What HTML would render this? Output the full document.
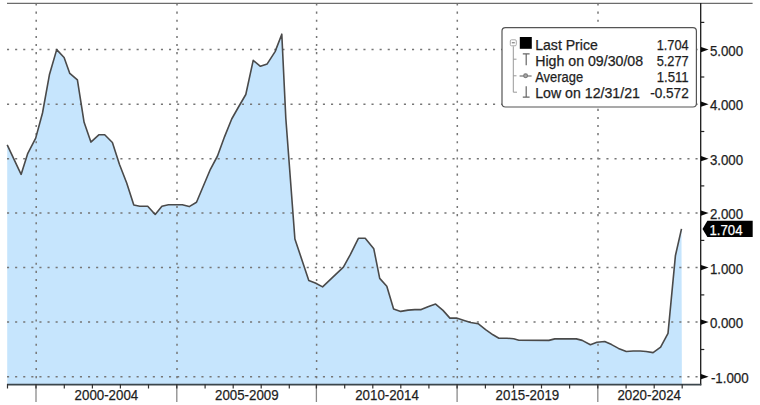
<!DOCTYPE html>
<html><head><meta charset="utf-8"><style>
html,body{margin:0;padding:0;background:#fff;width:760px;height:405px;overflow:hidden;}
svg{position:absolute;left:0;top:0;}
text{font-family:"Liberation Sans",sans-serif;font-size:14px;}
</style></head><body>
<svg width="760" height="405" viewBox="0 0 760 405">
<polygon points="7.2,144.8 21.1,174.4 27.8,153.3 35.7,138.1 42.5,113.0 49.4,74.8 56.7,49.6 64.1,57.5 69.8,73.4 77.4,79.8 84.1,122.3 90.9,142.1 98.8,134.8 104.7,134.8 112.4,142.5 119.5,164.5 126.7,183.0 133.8,205.0 139.8,206.2 147.7,206.2 155.2,214.5 161.9,206.2 168.4,204.8 176.3,204.8 182.3,204.8 189.2,206.6 196.5,202.3 210.4,169.3 217.5,156.0 224.6,136.6 231.7,119.0 238.5,107.0 245.8,94.5 253.2,60.4 260.4,66.3 267.2,63.9 275.1,51.6 281.8,34.2 285.8,118.0 294.9,239.0 308.8,280.4 315.3,283.0 322.6,286.9 343.4,267.2 350.3,254.7 358.4,238.3 365.2,238.3 373.8,248.8 379.7,278.4 386.8,286.3 393.6,308.9 400.7,311.4 408.1,310.1 414.8,309.6 421.2,309.6 428.6,306.4 435.6,304.1 443.0,310.4 449.9,318.1 456.5,318.0 464.1,320.4 470.7,322.5 478.1,323.7 485.6,329.6 493.0,334.8 498.9,338.2 507.0,338.2 513.7,338.8 518.9,340.2 548.9,340.4 554.8,338.9 576.3,338.9 582.2,340.4 590.4,344.8 596.9,342.3 604.7,341.5 611.6,344.6 618.5,348.4 626.3,351.5 633.2,351.0 640.1,351.0 646.1,351.5 653.1,352.6 660.6,347.1 668.0,333.3 675.4,255.8 681.5,228.9 681.9,384.5 7.2,384.5" fill="#c6e5fd" stroke="none"/>
<line x1="7.0" y1="49.6" x2="700" y2="49.6" stroke="#767676" stroke-width="1.5" stroke-dasharray="2.1 6.0"/>
<line x1="7.0" y1="104.2" x2="700" y2="104.2" stroke="#767676" stroke-width="1.5" stroke-dasharray="2.1 6.0"/>
<line x1="7.0" y1="158.7" x2="700" y2="158.7" stroke="#767676" stroke-width="1.5" stroke-dasharray="2.1 6.0"/>
<line x1="7.0" y1="213.1" x2="700" y2="213.1" stroke="#767676" stroke-width="1.5" stroke-dasharray="2.1 6.0"/>
<line x1="7.0" y1="267.6" x2="700" y2="267.6" stroke="#767676" stroke-width="1.5" stroke-dasharray="2.1 6.0"/>
<line x1="7.0" y1="322.1" x2="700" y2="322.1" stroke="#767676" stroke-width="1.5" stroke-dasharray="2.1 6.0"/>
<line x1="7.0" y1="376.7" x2="700" y2="376.7" stroke="#767676" stroke-width="1.5" stroke-dasharray="2.1 6.0"/>
<line x1="36.2" y1="3.5" x2="36.2" y2="384" stroke="#767676" stroke-width="1.5" stroke-dasharray="2.1 6.0"/>
<line x1="177.0" y1="3.5" x2="177.0" y2="384" stroke="#767676" stroke-width="1.5" stroke-dasharray="2.1 6.0"/>
<line x1="316.6" y1="3.5" x2="316.6" y2="384" stroke="#767676" stroke-width="1.5" stroke-dasharray="2.1 6.0"/>
<line x1="457.3" y1="3.5" x2="457.3" y2="384" stroke="#767676" stroke-width="1.5" stroke-dasharray="2.1 6.0"/>
<line x1="598.0" y1="3.5" x2="598.0" y2="384" stroke="#767676" stroke-width="1.5" stroke-dasharray="2.1 6.0"/>
<polyline points="7.2,144.8 21.1,174.4 27.8,153.3 35.7,138.1 42.5,113.0 49.4,74.8 56.7,49.6 64.1,57.5 69.8,73.4 77.4,79.8 84.1,122.3 90.9,142.1 98.8,134.8 104.7,134.8 112.4,142.5 119.5,164.5 126.7,183.0 133.8,205.0 139.8,206.2 147.7,206.2 155.2,214.5 161.9,206.2 168.4,204.8 176.3,204.8 182.3,204.8 189.2,206.6 196.5,202.3 210.4,169.3 217.5,156.0 224.6,136.6 231.7,119.0 238.5,107.0 245.8,94.5 253.2,60.4 260.4,66.3 267.2,63.9 275.1,51.6 281.8,34.2 285.8,118.0 294.9,239.0 308.8,280.4 315.3,283.0 322.6,286.9 343.4,267.2 350.3,254.7 358.4,238.3 365.2,238.3 373.8,248.8 379.7,278.4 386.8,286.3 393.6,308.9 400.7,311.4 408.1,310.1 414.8,309.6 421.2,309.6 428.6,306.4 435.6,304.1 443.0,310.4 449.9,318.1 456.5,318.0 464.1,320.4 470.7,322.5 478.1,323.7 485.6,329.6 493.0,334.8 498.9,338.2 507.0,338.2 513.7,338.8 518.9,340.2 548.9,340.4 554.8,338.9 576.3,338.9 582.2,340.4 590.4,344.8 596.9,342.3 604.7,341.5 611.6,344.6 618.5,348.4 626.3,351.5 633.2,351.0 640.1,351.0 646.1,351.5 653.1,352.6 660.6,347.1 668.0,333.3 675.4,255.8 681.5,228.9" fill="none" stroke="#4a4a4a" stroke-width="1.6" stroke-linejoin="round"/>
<line x1="7" y1="3.3" x2="752.6" y2="3.3" stroke="#6c6c6c" stroke-width="1.3"/>
<line x1="700.7" y1="3" x2="700.7" y2="385.3" stroke="#1a1a1a" stroke-width="1.3"/>
<line x1="7" y1="384.6" x2="701.3" y2="384.6" stroke="#3c464c" stroke-width="1.7"/>
<line x1="7.5" y1="384" x2="7.5" y2="388.5" stroke="#333" stroke-width="1.2"/>
<line x1="36.0" y1="385" x2="36.0" y2="402" stroke="#8a8a8a" stroke-width="1.3"/>
<line x1="36.0" y1="384" x2="36.0" y2="388.5" stroke="#333" stroke-width="1.3"/>
<line x1="64.3" y1="384" x2="64.3" y2="388.5" stroke="#333" stroke-width="1.2"/>
<line x1="92.4" y1="384" x2="92.4" y2="388.5" stroke="#333" stroke-width="1.2"/>
<line x1="120.4" y1="384" x2="120.4" y2="388.5" stroke="#333" stroke-width="1.2"/>
<line x1="148.5" y1="384" x2="148.5" y2="388.5" stroke="#333" stroke-width="1.2"/>
<line x1="176.8" y1="385" x2="176.8" y2="402" stroke="#8a8a8a" stroke-width="1.3"/>
<line x1="176.8" y1="384" x2="176.8" y2="388.5" stroke="#333" stroke-width="1.3"/>
<line x1="205.1" y1="384" x2="205.1" y2="388.5" stroke="#333" stroke-width="1.2"/>
<line x1="233.2" y1="384" x2="233.2" y2="388.5" stroke="#333" stroke-width="1.2"/>
<line x1="261.2" y1="384" x2="261.2" y2="388.5" stroke="#333" stroke-width="1.2"/>
<line x1="289.3" y1="384" x2="289.3" y2="388.5" stroke="#333" stroke-width="1.2"/>
<line x1="316.4" y1="385" x2="316.4" y2="402" stroke="#8a8a8a" stroke-width="1.3"/>
<line x1="316.4" y1="384" x2="316.4" y2="388.5" stroke="#333" stroke-width="1.3"/>
<line x1="344.7" y1="384" x2="344.7" y2="388.5" stroke="#333" stroke-width="1.2"/>
<line x1="372.8" y1="384" x2="372.8" y2="388.5" stroke="#333" stroke-width="1.2"/>
<line x1="400.8" y1="384" x2="400.8" y2="388.5" stroke="#333" stroke-width="1.2"/>
<line x1="428.9" y1="384" x2="428.9" y2="388.5" stroke="#333" stroke-width="1.2"/>
<line x1="457.1" y1="385" x2="457.1" y2="402" stroke="#8a8a8a" stroke-width="1.3"/>
<line x1="457.1" y1="384" x2="457.1" y2="388.5" stroke="#333" stroke-width="1.3"/>
<line x1="485.4" y1="384" x2="485.4" y2="388.5" stroke="#333" stroke-width="1.2"/>
<line x1="513.5" y1="384" x2="513.5" y2="388.5" stroke="#333" stroke-width="1.2"/>
<line x1="541.5" y1="384" x2="541.5" y2="388.5" stroke="#333" stroke-width="1.2"/>
<line x1="569.6" y1="384" x2="569.6" y2="388.5" stroke="#333" stroke-width="1.2"/>
<line x1="597.8" y1="385" x2="597.8" y2="402" stroke="#8a8a8a" stroke-width="1.3"/>
<line x1="597.8" y1="384" x2="597.8" y2="388.5" stroke="#333" stroke-width="1.3"/>
<line x1="626.1" y1="384" x2="626.1" y2="388.5" stroke="#333" stroke-width="1.2"/>
<line x1="654.2" y1="384" x2="654.2" y2="388.5" stroke="#333" stroke-width="1.2"/>
<line x1="682.2" y1="384" x2="682.2" y2="388.5" stroke="#333" stroke-width="1.2"/>
<polygon points="701,47.0 708.6,49.6 701,52.2" fill="#0a0a0a"/>
<line x1="701" y1="22.4" x2="704.3" y2="22.4" stroke="#222" stroke-width="1.2"/>
<polygon points="701,101.6 708.6,104.2 701,106.8" fill="#0a0a0a"/>
<line x1="701" y1="77.0" x2="704.3" y2="77.0" stroke="#222" stroke-width="1.2"/>
<polygon points="701,156.1 708.6,158.7 701,161.3" fill="#0a0a0a"/>
<line x1="701" y1="131.5" x2="704.3" y2="131.5" stroke="#222" stroke-width="1.2"/>
<polygon points="701,210.5 708.6,213.1 701,215.7" fill="#0a0a0a"/>
<line x1="701" y1="185.9" x2="704.3" y2="185.9" stroke="#222" stroke-width="1.2"/>
<polygon points="701,265.0 708.6,267.6 701,270.2" fill="#0a0a0a"/>
<line x1="701" y1="240.4" x2="704.3" y2="240.4" stroke="#222" stroke-width="1.2"/>
<polygon points="701,319.5 708.6,322.1 701,324.7" fill="#0a0a0a"/>
<line x1="701" y1="294.9" x2="704.3" y2="294.9" stroke="#222" stroke-width="1.2"/>
<polygon points="701,374.1 708.6,376.7 701,379.3" fill="#0a0a0a"/>
<line x1="701" y1="349.5" x2="704.3" y2="349.5" stroke="#222" stroke-width="1.2"/>
<text x="709.9" y="55.7" class="t" textLength="33.2" lengthAdjust="spacingAndGlyphs" style="fill:#1e1e1e;stroke:#1e1e1e;stroke-width:0.25px;font-size:14.5px">5.000</text>
<text x="709.9" y="110.3" class="t" textLength="33.2" lengthAdjust="spacingAndGlyphs" style="fill:#1e1e1e;stroke:#1e1e1e;stroke-width:0.25px;font-size:14.5px">4.000</text>
<text x="709.9" y="164.8" class="t" textLength="33.2" lengthAdjust="spacingAndGlyphs" style="fill:#1e1e1e;stroke:#1e1e1e;stroke-width:0.25px;font-size:14.5px">3.000</text>
<text x="709.9" y="219.2" class="t" textLength="33.2" lengthAdjust="spacingAndGlyphs" style="fill:#1e1e1e;stroke:#1e1e1e;stroke-width:0.25px;font-size:14.5px">2.000</text>
<text x="709.9" y="273.7" class="t" textLength="33.2" lengthAdjust="spacingAndGlyphs" style="fill:#1e1e1e;stroke:#1e1e1e;stroke-width:0.25px;font-size:14.5px">1.000</text>
<text x="709.9" y="328.2" class="t" textLength="33.2" lengthAdjust="spacingAndGlyphs" style="fill:#1e1e1e;stroke:#1e1e1e;stroke-width:0.25px;font-size:14.5px">0.000</text>
<text x="710.9" y="382.8" class="t" textLength="37.8" lengthAdjust="spacingAndGlyphs" style="fill:#1e1e1e;stroke:#1e1e1e;stroke-width:0.25px;font-size:14.5px">-1.000</text>
<polygon points="702.5,228.9 707.4,220.8 752.7,220.8 752.7,237.1 707.4,237.1" fill="#000"/>
<text x="709.5" y="235.0" class="t" textLength="33.0" lengthAdjust="spacingAndGlyphs" style="fill:#fff;stroke:#fff;stroke-width:0.25px;font-size:14.5px">1.704</text>
<text x="106.4" y="399.8" class="t" text-anchor="middle" textLength="63.6" lengthAdjust="spacingAndGlyphs" style="fill:#1e1e1e;stroke:#1e1e1e;stroke-width:0.25px;font-size:15.5px">2000-2004</text>
<text x="246.8" y="399.8" class="t" text-anchor="middle" textLength="63.6" lengthAdjust="spacingAndGlyphs" style="fill:#1e1e1e;stroke:#1e1e1e;stroke-width:0.25px;font-size:15.5px">2005-2009</text>
<text x="387.0" y="399.8" class="t" text-anchor="middle" textLength="63.6" lengthAdjust="spacingAndGlyphs" style="fill:#1e1e1e;stroke:#1e1e1e;stroke-width:0.25px;font-size:15.5px">2010-2014</text>
<text x="527.4" y="399.8" class="t" text-anchor="middle" textLength="63.6" lengthAdjust="spacingAndGlyphs" style="fill:#1e1e1e;stroke:#1e1e1e;stroke-width:0.25px;font-size:15.5px">2015-2019</text>
<text x="649.2" y="399.8" class="t" text-anchor="middle" textLength="63.6" lengthAdjust="spacingAndGlyphs" style="fill:#1e1e1e;stroke:#1e1e1e;stroke-width:0.25px;font-size:15.5px">2020-2024</text>
<rect x="502" y="27.6" width="194.4" height="79.4" rx="3.5" ry="3.5" fill="#fff" stroke="#555" stroke-width="1.2"/>
<rect x="510.3" y="39.8" width="6" height="6" rx="1.2" fill="#fff" stroke="#aaa" stroke-width="1"/>
<line x1="511.8" y1="42.8" x2="514.8" y2="42.8" stroke="#666" stroke-width="1"/>
<path d="M513.3 46.3 V92.2 H517 M513.3 59.2 H516.5 M513.3 75.8 H516.5" fill="none" stroke="#999" stroke-width="1"/>
<rect x="519.8" y="37" width="12" height="11.8" fill="#000"/>
<path d="M522.8 53.8 H529.6 M526.2 53.8 V65.2" fill="none" stroke="#666" stroke-width="1.2"/>
<path d="M519.6 76 H531.6" fill="none" stroke="#888" stroke-width="1.4"/>
<circle cx="525.6" cy="75.8" r="1.9" fill="#aaa" stroke="#777" stroke-width="1.1"/>
<path d="M522.8 97.2 H529.6 M526.2 86.3 V97.2" fill="none" stroke="#666" stroke-width="1.2"/>
<text x="535.2" y="49.5" class="t" textLength="62.6" lengthAdjust="spacingAndGlyphs" style="fill:#1e1e1e;stroke:#1e1e1e;stroke-width:0.25px;font-size:14.0px">Last Price</text>
<text x="688.7" y="49.5" class="t" text-anchor="end" textLength="32.0" lengthAdjust="spacingAndGlyphs" style="fill:#1e1e1e;stroke:#1e1e1e;stroke-width:0.25px;font-size:14.0px">1.704</text>
<text x="535.2" y="65.8" class="t" textLength="107.9" lengthAdjust="spacingAndGlyphs" style="fill:#1e1e1e;stroke:#1e1e1e;stroke-width:0.25px;font-size:14.0px">High on 09/30/08</text>
<text x="688.7" y="65.8" class="t" text-anchor="end" textLength="32.0" lengthAdjust="spacingAndGlyphs" style="fill:#1e1e1e;stroke:#1e1e1e;stroke-width:0.25px;font-size:14.0px">5.277</text>
<text x="535.2" y="82.0" class="t" textLength="47.9" lengthAdjust="spacingAndGlyphs" style="fill:#1e1e1e;stroke:#1e1e1e;stroke-width:0.25px;font-size:14.0px">Average</text>
<text x="688.7" y="82.0" class="t" text-anchor="end" textLength="32.0" lengthAdjust="spacingAndGlyphs" style="fill:#1e1e1e;stroke:#1e1e1e;stroke-width:0.25px;font-size:14.0px">1.511</text>
<text x="535.2" y="98.2" class="t" textLength="104.7" lengthAdjust="spacingAndGlyphs" style="fill:#1e1e1e;stroke:#1e1e1e;stroke-width:0.25px;font-size:14.0px">Low on 12/31/21</text>
<text x="688.7" y="98.2" class="t" text-anchor="end" textLength="38.5" lengthAdjust="spacingAndGlyphs" style="fill:#1e1e1e;stroke:#1e1e1e;stroke-width:0.25px;font-size:14.0px">-0.572</text>
</svg>
</body></html>
